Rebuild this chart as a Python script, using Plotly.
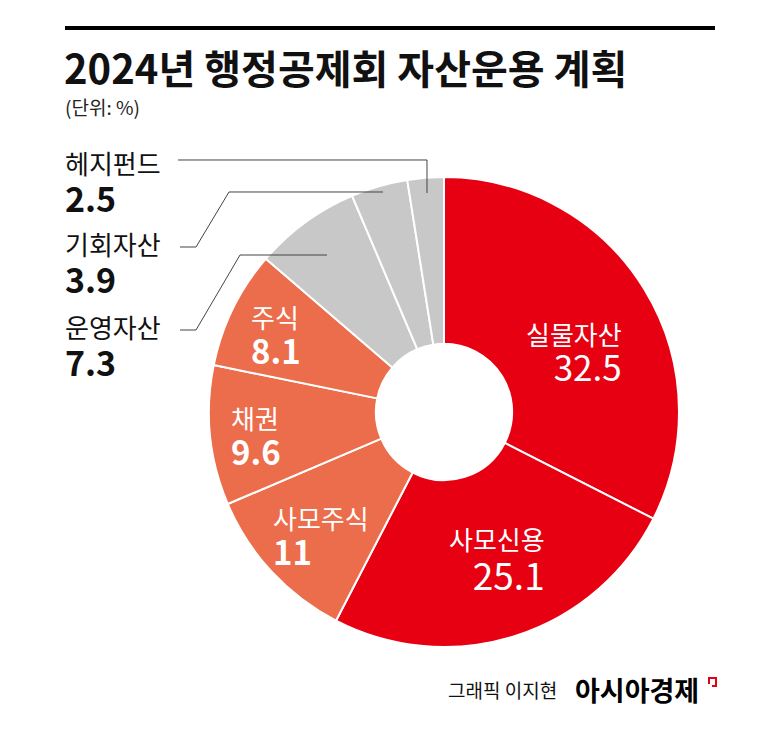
import plotly.graph_objects as go

# 자산운용 계획 (단위: %)
labels = ["실물자산", "사모신용", "사모주식", "채권", "주식", "운영자산", "기회자산", "헤지펀드"]
values = [32.5, 25.1, 11, 9.6, 8.1, 7.3, 3.9, 2.5]
colors = ["#E60012", "#E60012", "#EC6D4B", "#EC6D4B", "#EC6D4B",
          "#C8C8C8", "#C8C8C8", "#C8C8C8"]

W, H = 780, 732
OFF = 8  # page body margin
FONT = "Noto Sans CJK KR"


def px(x, y):
    # page pixel -> paper coordinates
    return (x - OFF) / W, 1 - (y - OFF) / H


x0, y0 = px(209, 647)
x1, y1 = px(679, 177)

fig = go.Figure(go.Pie(
    labels=labels,
    values=values,
    sort=False,
    direction="clockwise",
    rotation=0,
    hole=0.29,
    textinfo="none",
    hoverinfo="label+value",
    marker=dict(colors=colors, line=dict(color="#FFFFFF", width=2)),
    domain=dict(x=[x0, x1], y=[y0, y1]),
    showlegend=False,
))

annotations = []


def add_text(text, x, y, size, color, anchor="left"):
    ax, ay = px(x, y)
    annotations.append(dict(text=text, x=ax, y=ay, xref="paper", yref="paper",
                            xanchor=anchor, yanchor="middle", align=anchor,
                            showarrow=False,
                            font=dict(family=FONT, size=size, color=color)))


def two_line(name, v, name_size, num_size, bold):
    num = "%g" % v
    if bold:
        num = "<b>%s</b>" % num
    return ("<span style='font-size:%dpx'>%s</span><br>"
            "<span style='font-size:%dpx'>%s</span>" % (name_size, name, num_size, num))


# title
add_text("<b>2024년 행정공제회 자산운용 계획</b>", 62, 67, 40, "#111111")
add_text("(단위: %)", 63, 106, 19, "#222222")

# inside labels: (x, y centre of block, anchor, bold number, number size, line size)
inside = {
    "실물자산": (624, 353, "right", False, 35, 28),
    "사모신용": (547, 560, "right", False, 37, 31),
    "사모주식": (271, 537, "left", True, 33, 28),
    "채권": (229, 437, "left", True, 33, 28),
    "주식": (249, 336, "left", True, 33, 28),
}
# outside labels for the small slices
outside = {"헤지펀드": 183, "기회자산": 264, "운영자산": 347}

for name, v in zip(labels, values):
    if name in inside:
        x, y, a, b, ns, ls = inside[name]
        add_text(two_line(name, v, 26, ns, b), x, y, ls, "#FFFFFF", a)
    elif name in outside:
        add_text(two_line(name, v, 26, 34, True), 63, outside[name], 29, "#111111")

# footer
add_text("그래픽 이지현", 446, 689, 19, "#111111")
add_text("<b>아시아경제</b>", 573, 689, 27, "#000000")

shapes = []


def path(points, color="#444444", width=1):
    d = ""
    for i, (x, y) in enumerate(points):
        ax, ay = px(x, y)
        d += ("M" if i == 0 else "L") + " %f %f " % (ax, ay)
    shapes.append(dict(type="path", path=d, xref="paper", yref="paper",
                       line=dict(color=color, width=width)))


# top rule
path([(65, 28), (715, 28)], color="#000000", width=4)
# leader lines
path([(178, 160), (427, 160), (427, 193)])
path([(180, 247), (196, 247), (229, 192), (383, 192)])
path([(180, 330), (196, 330), (240, 255), (327, 255)])
# small red mark by the logo
path([(709, 684), (709, 678), (716, 678), (716, 686), (712, 686)],
     color="#E60012", width=2)

fig.update_layout(
    width=W, height=H,
    margin=dict(l=0, r=0, t=0, b=0),
    paper_bgcolor="white",
    plot_bgcolor="white",
    annotations=annotations,
    shapes=shapes,
)

fig.write_html("out.html")
